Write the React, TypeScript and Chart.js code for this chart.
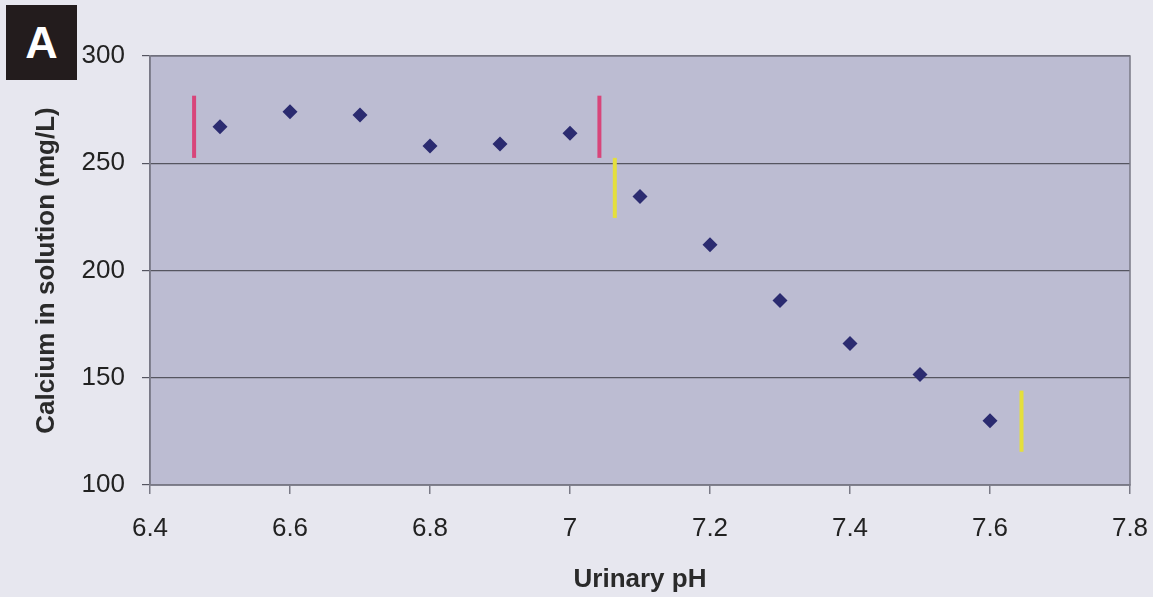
import React, { useEffect, useRef } from "react";
import { Chart, registerables } from "chart.js";

Chart.register(...registerables);

const phValues = [6.5, 6.6, 6.7, 6.8, 6.9, 7.0, 7.1, 7.2, 7.3, 7.4, 7.5, 7.6];
const calcium = [267, 274, 272.5, 258, 259, 264, 234.5, 212, 186, 166, 151.5, 130];

const redLine1X = 6.463;
const redLine2X = 7.042;
const redRange = [252.5, 281.5];
const yellowLine1X = 7.064;
const yellowRange1 = [224.5, 252.5];
const yellowLine2X = 7.645;
const yellowRange2 = [115.5, 144];

const xTicks = [6.4, 6.6, 6.8, 7.0, 7.2, 7.4, 7.6, 7.8];
const yTicks = [100, 150, 200, 250, 300];

const FONT = "'Liberation Sans', Arial, sans-serif";

const plotAreaPlugin = {
  id: "plotArea",
  beforeDraw(chart: any) {
    const { ctx, chartArea } = chart;
    if (!chartArea) return;
    ctx.save();
    ctx.fillStyle = "#bcbcd2";
    ctx.fillRect(chartArea.left, chartArea.top, chartArea.right - chartArea.left, chartArea.bottom - chartArea.top);
    ctx.restore();
  },
  afterDraw(chart: any) {
    const { ctx, chartArea } = chart;
    ctx.save();
    ctx.strokeStyle = "#7a7a86";
    ctx.lineWidth = 1.5;
    ctx.strokeRect(chartArea.left, chartArea.top, chartArea.right - chartArea.left, chartArea.bottom - chartArea.top);
    ctx.restore();
  },
};

export default function App() {
  const canvasRef = useRef<HTMLCanvasElement | null>(null);

  useEffect(() => {
    document.body.style.margin = "0";
    document.body.style.background = "#e7e7ef";
    const canvas = canvasRef.current;
    if (!canvas) return;
    const chart = new Chart(canvas, {
      type: "scatter",
      data: {
        datasets: [
          {
            label: "Calcium",
            data: phValues.map((x, i) => ({ x, y: calcium[i] })),
            pointStyle: "rectRot",
            pointRadius: 7.5,
            pointHoverRadius: 7.5,
            backgroundColor: "#2b2b70",
            borderColor: "#2b2b70",
            borderWidth: 0,
            showLine: false,
            order: 0,
          },
          {
            label: "red1",
            data: [{ x: redLine1X, y: redRange[0] }, { x: redLine1X, y: redRange[1] }],
            showLine: true,
            pointRadius: 0,
            borderColor: "#d8457a",
            borderWidth: 4,
            order: 1,
          },
          {
            label: "red2",
            data: [{ x: redLine2X, y: redRange[0] }, { x: redLine2X, y: redRange[1] }],
            showLine: true,
            pointRadius: 0,
            borderColor: "#d8457a",
            borderWidth: 4,
            order: 1,
          },
          {
            label: "yellow1",
            data: [{ x: yellowLine1X, y: yellowRange1[0] }, { x: yellowLine1X, y: yellowRange1[1] }],
            showLine: true,
            pointRadius: 0,
            borderColor: "#e4df3c",
            borderWidth: 4,
            order: 1,
          },
          {
            label: "yellow2",
            data: [{ x: yellowLine2X, y: yellowRange2[0] }, { x: yellowLine2X, y: yellowRange2[1] }],
            showLine: true,
            pointRadius: 0,
            borderColor: "#e4df3c",
            borderWidth: 4,
            order: 1,
          },
        ],
      },
      options: {
        animation: false,
        responsive: false,
        maintainAspectRatio: false,
        layout: { padding: { top: 56, right: 23, left: 0, bottom: 0 } },
        plugins: {
          legend: { display: false },
          tooltip: { enabled: false },
          title: { display: false },
        },
        scales: {
          x: {
            type: "linear",
            min: 6.4,
            max: 7.8,
            afterBuildTicks: (s: any) => {
              s.ticks = xTicks.map((v) => ({ value: v }));
            },
            afterFit: (s: any) => {
              s.height = 112;
              s.paddingLeft = 0;
              s.paddingRight = 0;
            },
            grid: {
              drawOnChartArea: false,
              drawTicks: true,
              tickLength: 9,
              color: "#7a7a86",
              lineWidth: 1.5,
            },
            border: { display: true, color: "#7a7a86", width: 1.5 },
            ticks: {
              padding: 22,
              color: "#222222",
              font: { family: FONT, size: 26, lineHeight: 1 },
              callback: (v: any) => String(Number(Number(v).toFixed(1))),
            },
            title: {
              display: true,
              text: "Urinary pH",
              color: "#2a2a2a",
              font: { family: FONT, size: 26, weight: "bold", lineHeight: 1 },
              padding: { top: 0, bottom: 4 },
            },
          },
          y: {
            type: "linear",
            min: 100,
            max: 300,
            afterBuildTicks: (s: any) => {
              s.ticks = yTicks.map((v) => ({ value: v }));
            },
            afterFit: (s: any) => {
              s.width = 150;
              s.paddingTop = 0;
              s.paddingBottom = 0;
            },
            grid: {
              drawOnChartArea: true,
              drawTicks: true,
              tickLength: 8,
              color: "#555560",
              lineWidth: 1.2,
            },
            border: { display: true, color: "#7a7a86", width: 1.5 },
            ticks: {
              padding: 17,
              color: "#222222",
              font: { family: FONT, size: 26, lineHeight: 1 },
            },
            title: {
              display: true,
              text: "Calcium in solution (mg/L)",
              color: "#2a2a2a",
              font: { family: FONT, size: 26, weight: "bold", lineHeight: 1 },
              padding: { top: 34, bottom: 0 },
            },
          },
        },
      },
      plugins: [plotAreaPlugin],
    });
    return () => chart.destroy();
  }, []);

  return (
    <div style={{ position: "relative", width: 1153, height: 597, background: "#e7e7ef" }}>
      <canvas ref={canvasRef} width={1153} height={597} style={{ display: "block", width: 1153, height: 597 }} />
      <div
        style={{
          position: "absolute",
          left: 6,
          top: 5,
          width: 71,
          height: 75,
          background: "#231c1d",
          color: "#ffffff",
          fontFamily: FONT,
          fontWeight: "bold",
          fontSize: 45,
          lineHeight: "75px",
          textAlign: "center",
        }}
      >
        A
      </div>
    </div>
  );
}
